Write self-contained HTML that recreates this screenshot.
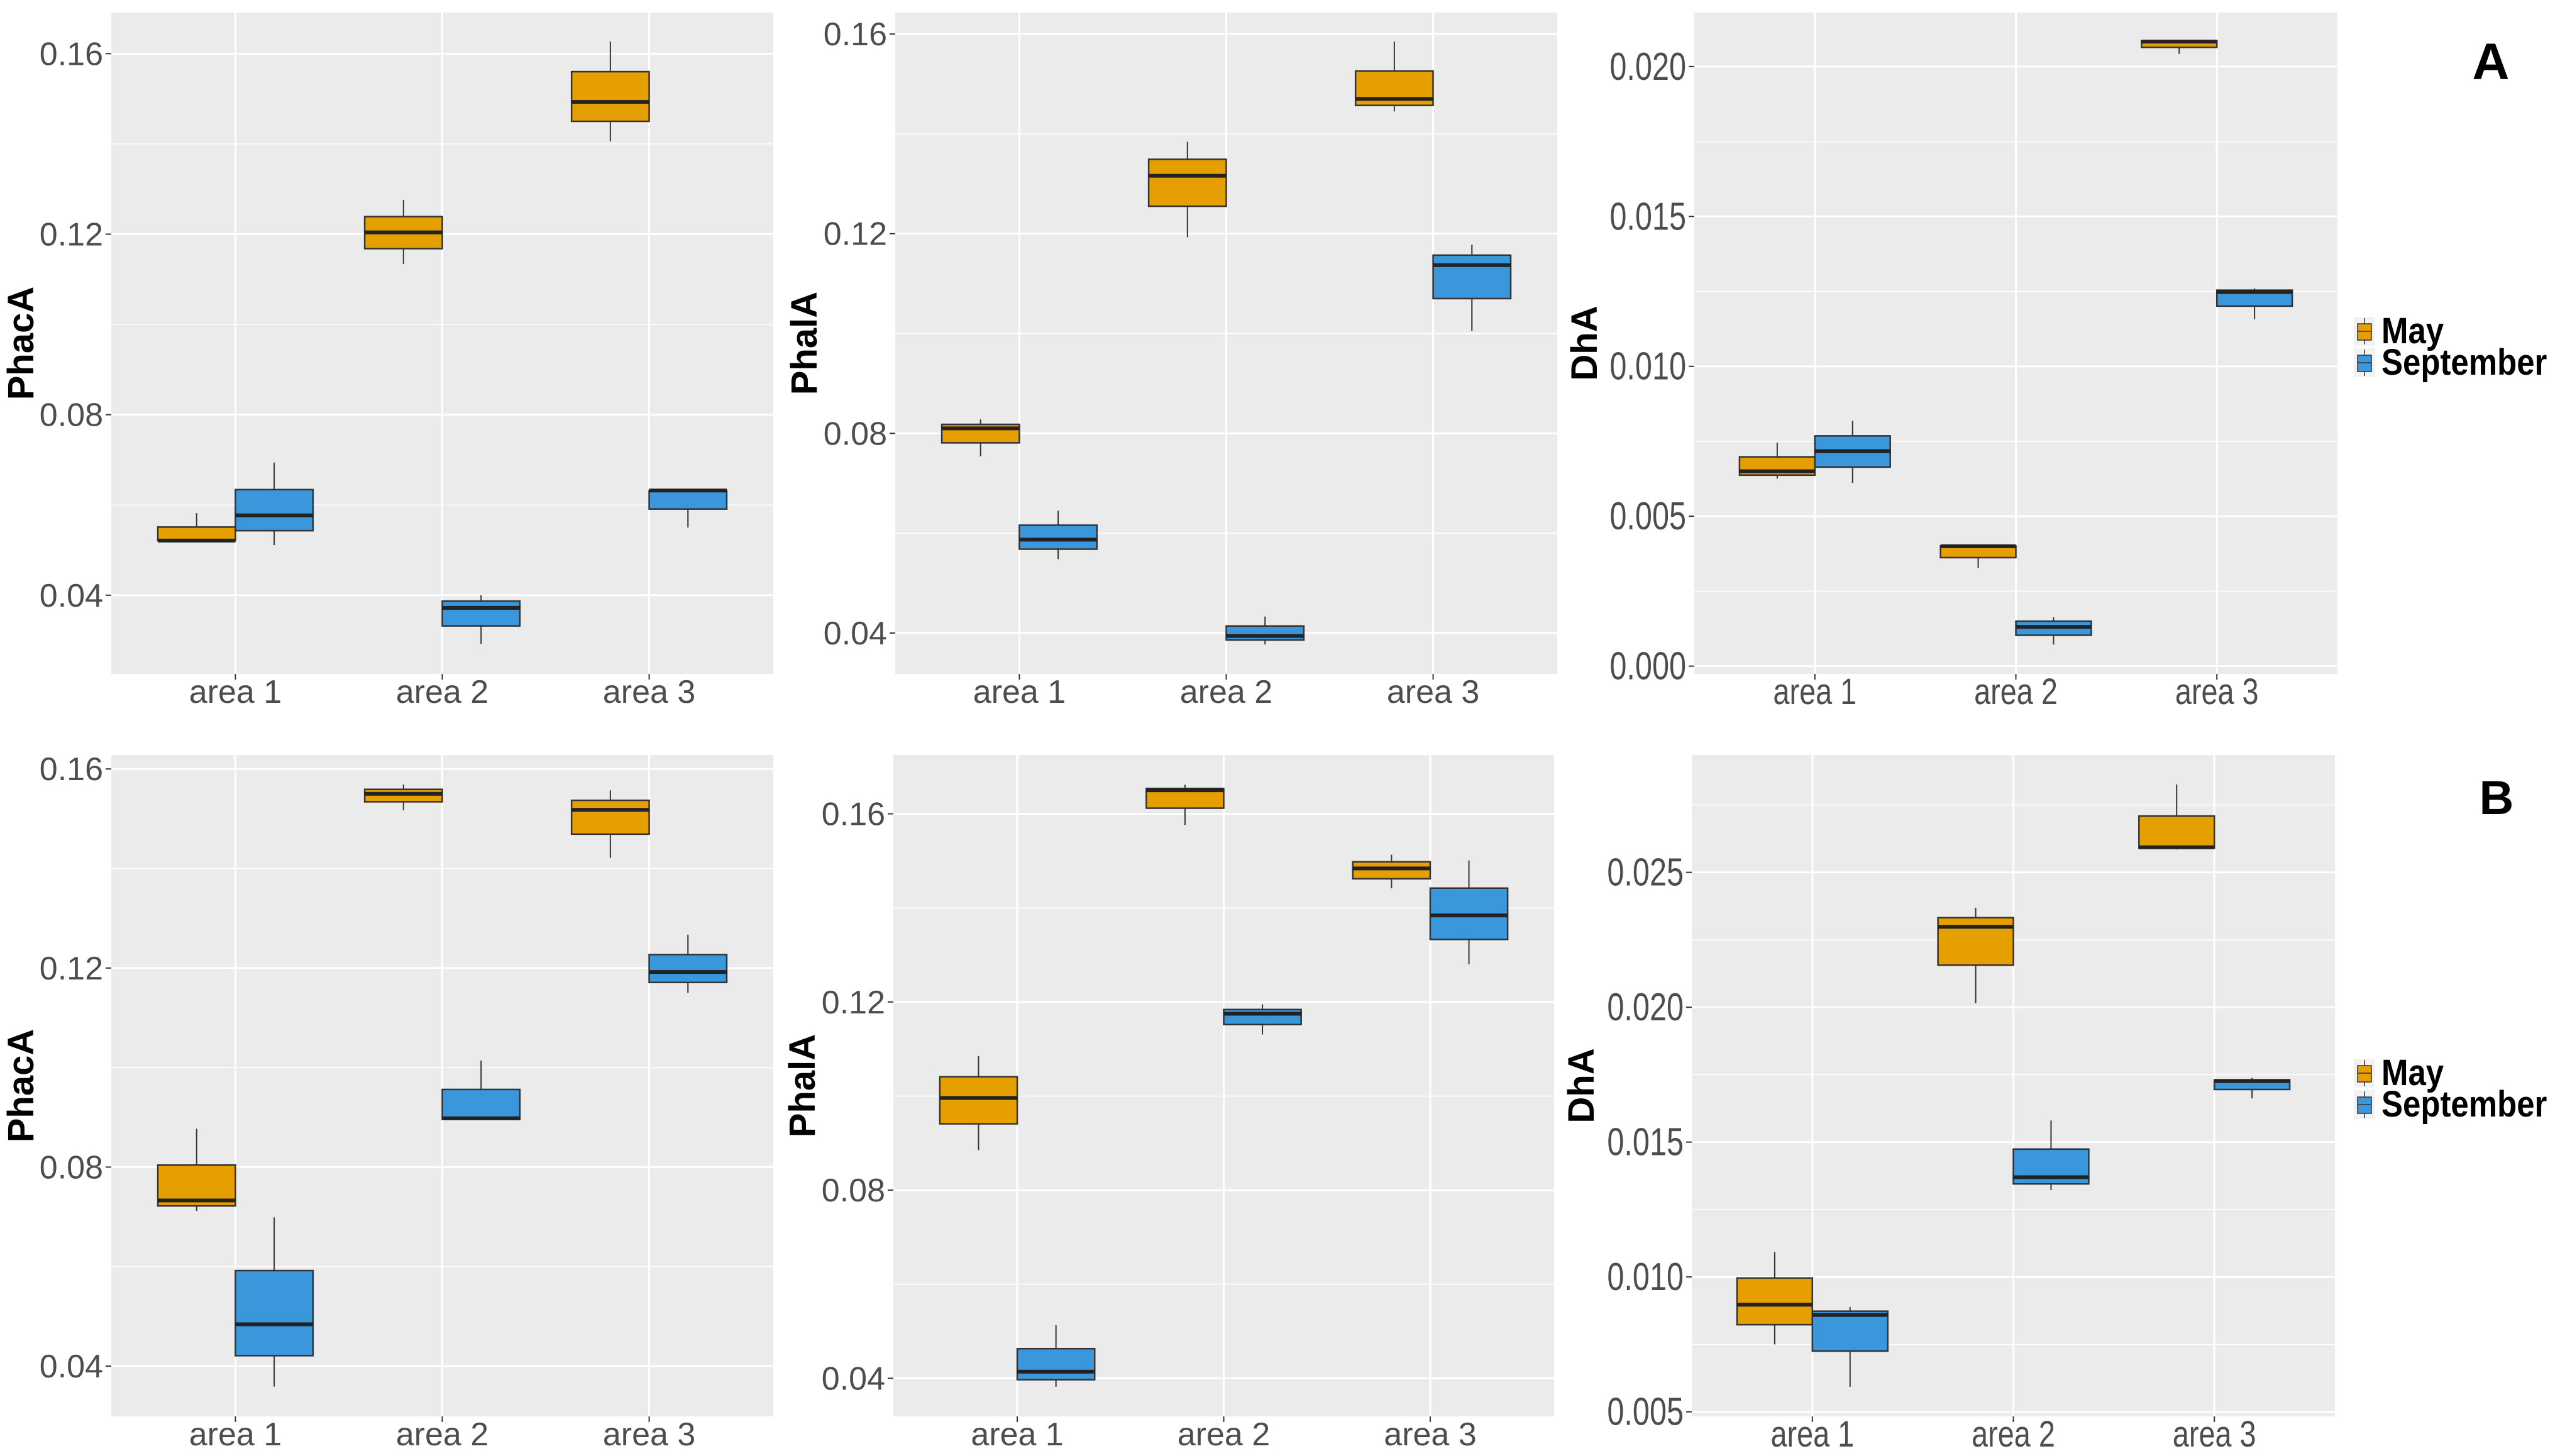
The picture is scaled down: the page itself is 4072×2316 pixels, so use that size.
<!DOCTYPE html>
<html><head><meta charset="utf-8"><style>
html,body{margin:0;padding:0;background:#fff;}
svg{display:block;}
</style></head><body>
<svg id="chart" width="4072" height="2316" viewBox="0 0 4072 2316" xmlns="http://www.w3.org/2000/svg">
<rect x="0" y="0" width="4072" height="2316" fill="#fff"/>
<g id="panels"></g>
<text x="3962" y="126" font-family="Liberation Sans, sans-serif" font-weight="bold" font-size="82" text-anchor="middle" fill="#000">A</text>
<text x="3971" y="1295" font-family="Liberation Sans, sans-serif" font-weight="bold" font-size="76" text-anchor="middle" fill="#000">B</text>
</svg>
<script>
const categories = ["area 1", "area 2", "area 3"];
const seriesNames = ["May", "September"];
// [whiskerLow, q1, median, q3, whiskerHigh]
const a1May = [[0.0521,0.0521,0.0521,0.0551,0.0582],[0.1134,0.1168,0.1204,0.1239,0.1276],[0.1406,0.145,0.1493,0.156,0.1627]];
const a1Sep = [[0.0511,0.0543,0.0577,0.0634,0.0694],[0.0292,0.0332,0.0372,0.0387,0.040],[0.055,0.0591,0.0632,0.0632,0.0636]];
const a2May = [[0.0754,0.0781,0.081,0.0818,0.0828],[0.1193,0.1255,0.1316,0.1349,0.1384],[0.1445,0.1457,0.147,0.1526,0.1585]];
const a2Sep = [[0.0548,0.0568,0.0587,0.0616,0.0645],[0.0377,0.0386,0.0394,0.0414,0.0433],[0.1005,0.107,0.1137,0.1157,0.1178]];
const a3May = [[0.00625,0.00637,0.0065,0.00698,0.00745],[0.00328,0.00362,0.0040,0.00401,0.00401],[0.02042,0.02064,0.02083,0.02086,0.02086]];
const a3Sep = [[0.00611,0.00664,0.00717,0.00768,0.00818],[0.00072,0.00103,0.00131,0.0015,0.00163],[0.01157,0.01201,0.01248,0.01254,0.0126]];
const b1May = [[0.0712,0.0722,0.0733,0.0804,0.0877],[0.1517,0.1534,0.155,0.1559,0.1569],[0.1421,0.1469,0.1518,0.1537,0.1557]];
const b1Sep = [[0.0359,0.0421,0.0484,0.0592,0.0699],[0.0896,0.0896,0.0898,0.0956,0.1014],[0.115,0.1171,0.1192,0.1227,0.1267]];
const b2May = [[0.0885,0.0941,0.0996,0.1041,0.1085],[0.1576,0.1612,0.165,0.1654,0.1662],[0.1442,0.1462,0.1484,0.1498,0.1513]];
const b2Sep = [[0.0382,0.0397,0.0414,0.0463,0.0513],[0.1131,0.1152,0.1175,0.1184,0.1195],[0.128,0.1333,0.1384,0.1442,0.1501]];
const b3May = [[0.0075,0.00823,0.00897,0.00996,0.01092],[0.02015,0.02156,0.02298,0.02332,0.02369],[0.02585,0.0259,0.02593,0.02709,0.02826]];
const b3Sep = [[0.00593,0.00725,0.00859,0.00873,0.00889],[0.01322,0.01345,0.0137,0.01474,0.0158],[0.01662,0.01695,0.01726,0.01731,0.01738]];
const ticksPhac = [0.04, 0.08, 0.12, 0.16];
const ticksPhal = [0.04, 0.08, 0.12, 0.16];
const ticksDhA = [0.000, 0.005, 0.010, 0.015, 0.020];
const ticksDhB = [0.005, 0.010, 0.015, 0.020, 0.025];
const domA1 = [0.02256, 0.1691], domA2 = [0.0318, 0.1643], domA3 = [-0.00026, 0.0218];
const domB1 = [0.0299, 0.1628], domB2 = [0.0319, 0.1725], domB3 = [0.00483, 0.02935];

const panels = [
 {id:"a-phaca", title:"PhacA", x0:177,x1:1230,y0:20,y1:1072, dom:domA1, ticks:ticksPhac, dec:2, may:a1May, sep:a1Sep, tx:33},
 {id:"a-phala", title:"PhalA", x0:1424,x1:2477,y0:20,y1:1072, dom:domA2, ticks:ticksPhal, dec:2, may:a2May, sep:a2Sep, tx:1279},
 {id:"a-dha", title:"DhA", x0:2695,x1:3718,y0:20,y1:1072, dom:domA3, ticks:ticksDhA, dec:3, may:a3May, sep:a3Sep, tx:2520, cond:true, legend:true},
 {id:"b-phaca", title:"PhacA", x0:177,x1:1230,y0:1201,y1:2253, dom:domB1, ticks:ticksPhac, dec:2, may:b1May, sep:b1Sep, tx:33},
 {id:"b-phala", title:"PhalA", x0:1421,x1:2472,y0:1201,y1:2253, dom:domB2, ticks:ticksPhal, dec:2, may:b2May, sep:b2Sep, tx:1276},
 {id:"b-dha", title:"DhA", x0:2691,x1:3714,y0:1201,y1:2253, dom:domB3, ticks:ticksDhB, dec:3, may:b3May, sep:b3Sep, tx:2515, cond:true, legend:true}
];
const NS = "http://www.w3.org/2000/svg";
const root = document.getElementById("panels");
const colors = ["#E69F00", "#3A97DB"];
function mk(tag, attrs, parent){const e=document.createElementNS(NS,tag);for(const k in attrs)e.setAttribute(k,attrs[k]);parent.appendChild(e);return e;}
panels.forEach(p=>{
  const g = mk("g",{},root);
  
  
  const yS = v => p.y1 - (v - p.dom[0]) / (p.dom[1] - p.dom[0]) * (p.y1 - p.y0);
  const W = p.x1 - p.x0;
  const xS = u => p.x0 + (u + 0.6) / 3.2 * W;
  const bg = mk("rect",{x:p.x0,y:p.y0,width:W,height:p.y1-p.y0,fill:"#EBEBEB"},g);
  
  
  const step = p.ticks[1]-p.ticks[0];
  for(let i=-1;i<p.ticks.length;i++){
    const v = p.ticks[0] + (i+0.5)*step;
    if(v<p.dom[0]||v>p.dom[1]) continue;
    const y=yS(v);
    const l=mk("line",{x1:p.x0,x2:p.x1,y1:y,y2:y,stroke:"#fff","stroke-width":1.5},g);
    
    
  }
  p.ticks.forEach(v=>{
    const y=yS(v);
    const l=mk("line",{x1:p.x0,x2:p.x1,y1:y,y2:y,stroke:"#fff","stroke-width":3},g);
    
    
    const tk=mk("line",{x1:p.x0-9,x2:p.x0,y1:y,y2:y,stroke:"#333","stroke-width":2},g);
    
    
    const t=mk("text",{x:p.x0-13,y:y+18,"text-anchor":"end","font-family":"Liberation Sans, sans-serif","font-size":52,fill:"#4D4D4D"},g);
    if(p.cond){t.setAttribute("font-size",54);t.setAttribute("transform","translate("+(p.x0-13)+",0) scale(0.9,1.15) translate("+(-(p.x0-13))+",0)");t.setAttribute("y",(y+21)/1.15);}
    t.textContent=v.toFixed(p.dec);
    
    
  });
  categories.forEach((c,i)=>{
    const x=xS(i);
    const l=mk("line",{x1:x,x2:x,y1:p.y0,y2:p.y1,stroke:"#fff","stroke-width":3},g);
    
    
    const tk=mk("line",{x1:x,x2:x,y1:p.y1,y2:p.y1+9,stroke:"#333","stroke-width":2},g);
    
    
    const t=mk("text",{x:x,y:p.y1+46,"text-anchor":"middle","font-family":"Liberation Sans, sans-serif","font-size":52,fill:"#4D4D4D"},g);
    if(p.cond){t.setAttribute("transform","translate("+x+",0) scale(0.9,1.12) translate("+(-x)+",0)");t.setAttribute("y",(p.y1+48)/1.12);}
    t.textContent=c;
    
    
  });
  [p.may,p.sep].forEach((ser,si)=>{
    ser.forEach((d,i)=>{
      const cx=xS(i + (si===0?-0.1875:0.1875));
      const hw=0.1875/3.2*W;
      const bx=mk("g",{},g);
      
      
      mk("line",{x1:cx,x2:cx,y1:yS(d[4]),y2:yS(d[3]),stroke:"#333","stroke-width":2},bx);
      mk("line",{x1:cx,x2:cx,y1:yS(d[1]),y2:yS(d[0]),stroke:"#333","stroke-width":2},bx);
      mk("rect",{x:cx-hw,y:yS(d[3]),width:2*hw,height:Math.max(1,yS(d[1])-yS(d[3])),fill:colors[si],stroke:"#333","stroke-width":2.5},bx);
      mk("line",{x1:cx-hw,x2:cx+hw,y1:yS(d[2]),y2:yS(d[2]),stroke:"#222","stroke-width":6},bx);
    });
  });
  const cy=(p.y0+p.y1)/2;
  const tt=mk("text",{x:p.tx+20,y:cy,"text-anchor":"middle","font-family":"Liberation Sans, sans-serif","font-weight":"bold","font-size":58,fill:"#000",transform:"rotate(-90 "+(p.tx+20)+" "+cy+")"},g);
  tt.textContent=p.title;
  
  
  if(p.legend){
    const ly = p.y0===20 ? 506 : 1686;
    const lg=mk("g",{},g);
    
    
    seriesNames.forEach((n,si)=>{
      const y=ly+si*50;
      const e=mk("g",{},lg);
      
      
      mk("rect",{x:3744,y:y-2,width:34,height:46,fill:"#F2F2F2"},e);
      mk("line",{x1:3761,x2:3761,y1:y,y2:y+42,stroke:"#333","stroke-width":1.5},e);
      mk("rect",{x:3750,y:y+9,width:22,height:26,fill:colors[si],stroke:"#333","stroke-width":1.5},e);
      mk("line",{x1:3750,x2:3772,y1:y+21,y2:y+21,stroke:"#333","stroke-width":1.5},e);
      const t=mk("text",{x:3788,y:y+38,"font-family":"Liberation Sans, sans-serif","font-weight":"bold","font-size":52,fill:"#000",transform:"translate(3788,0) scale(0.98,1.12) translate(-3788,0)"},e);
      t.setAttribute("y",(y+40)/1.12);
      t.textContent=n;
    });
  }
});
</script>
</body></html>
